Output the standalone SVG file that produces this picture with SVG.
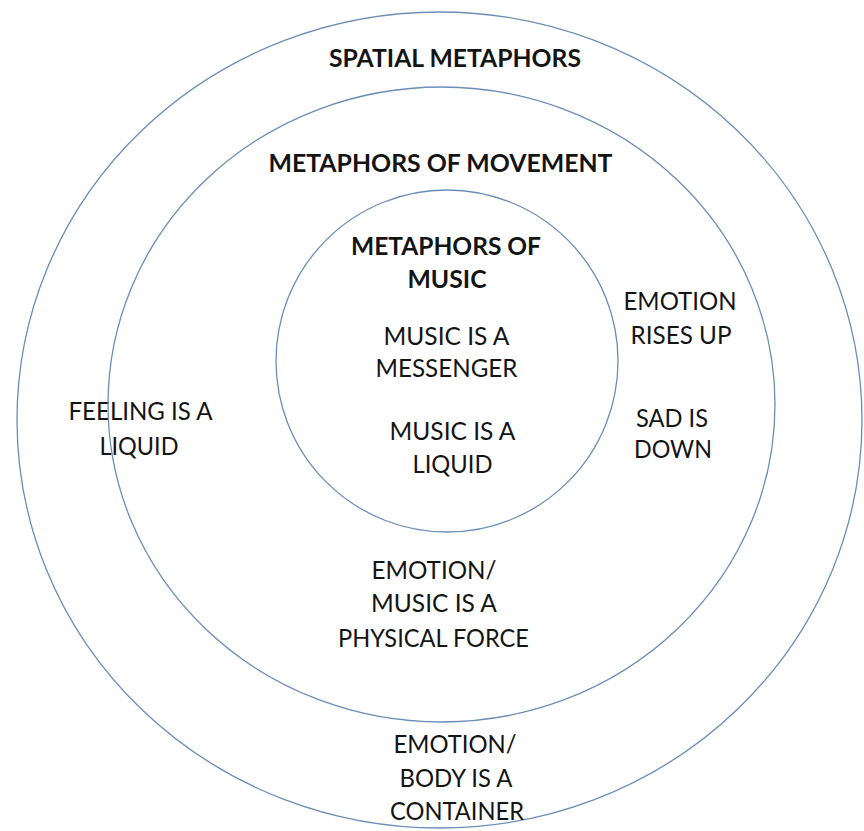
<svg xmlns="http://www.w3.org/2000/svg" width="864" height="831" viewBox="0 0 864 831">
<style>
.ring{fill:none;stroke:#6b8db8;stroke-width:1.3}
.t{font-family:Lato,"Open Sans","Liberation Sans",sans-serif;font-size:25px;fill:#141414;text-anchor:middle}
.b{font-weight:bold}
</style>
<rect x="0" y="0" width="864" height="831" fill="#ffffff"/>
<g id="spatial-metaphors">
<ellipse class="ring" cx="439.5" cy="420" rx="422.5" ry="408"/>
<text class="t b" x="455" y="67" textLength="252" lengthAdjust="spacingAndGlyphs">SPATIAL METAPHORS</text>
<text class="t" x="140.5" y="420" textLength="144" lengthAdjust="spacingAndGlyphs">FEELING IS A</text>
<text class="t" x="139" y="455" textLength="79" lengthAdjust="spacingAndGlyphs">LIQUID</text>
<text class="t" x="455" y="753" textLength="123" lengthAdjust="spacingAndGlyphs">EMOTION/</text>
<text class="t" x="456" y="787" textLength="113" lengthAdjust="spacingAndGlyphs">BODY IS A</text>
<text class="t" x="457" y="820" textLength="134" lengthAdjust="spacingAndGlyphs">CONTAINER</text>
</g>
<g id="metaphors-of-movement">
<ellipse class="ring" cx="441.5" cy="404.5" rx="333.5" ry="317.5"/>
<text class="t b" x="440.5" y="172" textLength="344" lengthAdjust="spacingAndGlyphs">METAPHORS OF MOVEMENT</text>
<text class="t" x="680" y="310" textLength="113" lengthAdjust="spacingAndGlyphs">EMOTION</text>
<text class="t" x="681" y="344" textLength="101" lengthAdjust="spacingAndGlyphs">RISES UP</text>
<text class="t" x="672" y="427" textLength="72" lengthAdjust="spacingAndGlyphs">SAD IS</text>
<text class="t" x="673" y="458" textLength="78" lengthAdjust="spacingAndGlyphs">DOWN</text>
<text class="t" x="434" y="579" textLength="125" lengthAdjust="spacingAndGlyphs">EMOTION/</text>
<text class="t" x="434" y="612" textLength="126" lengthAdjust="spacingAndGlyphs">MUSIC IS A</text>
<text class="t" x="433.5" y="647" textLength="191" lengthAdjust="spacingAndGlyphs">PHYSICAL FORCE</text>
</g>
<g id="metaphors-of-music">
<circle class="ring" cx="447" cy="361" r="171"/>
<text class="t b" x="446" y="255" textLength="190" lengthAdjust="spacingAndGlyphs">METAPHORS OF</text>
<text class="t b" x="447" y="288" textLength="79" lengthAdjust="spacingAndGlyphs">MUSIC</text>
<text class="t" x="446.5" y="345" textLength="126" lengthAdjust="spacingAndGlyphs">MUSIC IS A</text>
<text class="t" x="446.5" y="377" textLength="142" lengthAdjust="spacingAndGlyphs">MESSENGER</text>
<text class="t" x="452.5" y="440" textLength="126" lengthAdjust="spacingAndGlyphs">MUSIC IS A</text>
<text class="t" x="452.5" y="473" textLength="80" lengthAdjust="spacingAndGlyphs">LIQUID</text>
</g>
</svg>
